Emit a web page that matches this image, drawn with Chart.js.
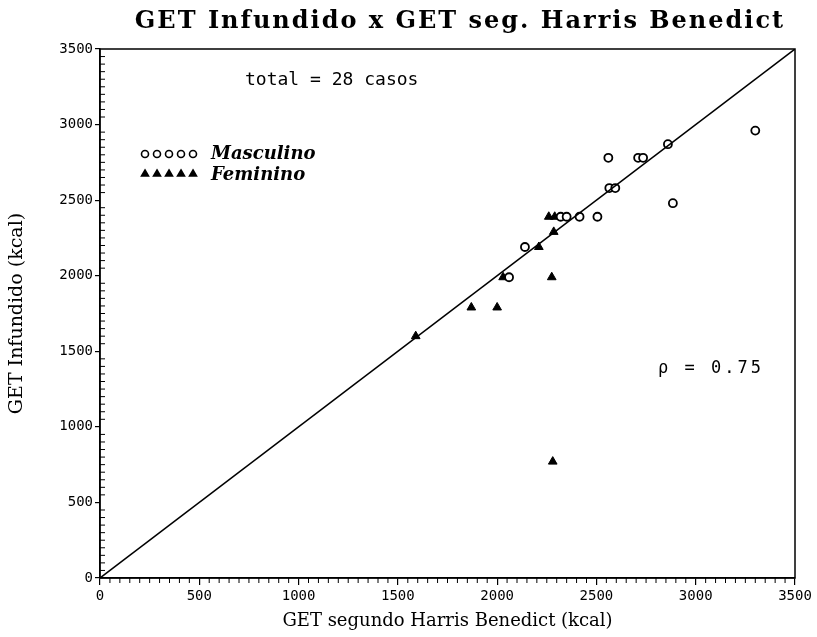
<!DOCTYPE html>
<html>
<head>
<meta charset="utf-8">
<script src="https://cdn.jsdelivr.net/npm/chart.js@4.4.1/dist/chart.umd.min.js"></script>
<style>
  html, body { margin: 0; padding: 0; background: #fff; }
  #wrap { width: 817px; height: 637px; }
</style>
</head>
<body>
<div id="wrap"><canvas id="c" width="817" height="637"></canvas></div>
<script>
// ---- data ----
const titleText = 'GET Infundido x GET seg. Harris Benedict';
const xTitle = 'GET segundo Harris Benedict (kcal)';
const yTitle = 'GET Infundido (kcal)';
const tickValues = [0, 500, 1000, 1500, 2000, 2500, 3000, 3500];

const mascX = [3300, 2860, 2560, 2710, 2735, 2565, 2595, 2885, 2505, 2415, 2320, 2350, 2140, 2060];
const mascY = [2960, 2870, 2780, 2780, 2780, 2580, 2580, 2480, 2390, 2390, 2390, 2390, 2190, 1990];

const femX = [2260, 2290, 2285, 2210, 2030, 2275, 1870, 2000, 1590, 2280];
const femY = [2390, 2390, 2290, 2190, 1990, 1990, 1790, 1790, 1600, 770];

const lineX = [0, 3500];
const lineY = [0, 3500];

const totalText = 'total = 28 casos';
const legendMasc = 'Masculino';
const legendFem = 'Feminino';
const rhoText = 'ρ = 0.75';

const toPts = (xs, ys) => xs.map((x, i) => ({ x: x, y: ys[i] }));

const annotations = {
  id: 'annotations',
  afterDraw(chart) {
    const ctx = chart.ctx;
    const ca = chart.chartArea;
    ctx.save();
    // frame
    ctx.strokeStyle = '#000';
    ctx.lineWidth = 1.5;
    ctx.strokeRect(ca.left, ca.top, ca.right - ca.left, ca.bottom - ca.top);
    // minor ticks
    const xs = chart.scales.x, ys = chart.scales.y;
    ctx.lineWidth = 1;
    ctx.beginPath();
    for (let v = 0; v <= 3500; v += 50) {
      if (v % 500 === 0) continue;
      const px = xs.getPixelForValue(v);
      ctx.moveTo(px, ca.bottom);
      ctx.lineTo(px, ca.bottom + 5);
      const py = ys.getPixelForValue(v);
      ctx.moveTo(ca.left, py);
      ctx.lineTo(ca.left + 5, py);
    }
    ctx.stroke();
    // title
    ctx.fillStyle = '#000';
    ctx.textBaseline = 'middle';
    ctx.textAlign = 'center';
    ctx.font = 'bold 24px "DejaVu Serif"';
    ctx.letterSpacing = '2px';
    ctx.fillText(titleText, 460, 22);
    ctx.letterSpacing = '0px';
    // text
    ctx.textAlign = 'left';
    ctx.font = '18px "DejaVu Sans Mono"';
    ctx.fillText(totalText, 245, 80);
    // legend
    const h = Chart.helpers;
    for (let i = 0; i < 5; i++) {
      const x = 145 + i * 12;
      ctx.strokeStyle = '#000';
      ctx.fillStyle = '#fff';
      ctx.lineWidth = 1.6;
      h.drawPoint(ctx, { pointStyle: 'circle', radius: 3.5, borderWidth: 1.6 }, x, 154);
      ctx.fillStyle = '#000';
      h.drawPoint(ctx, { pointStyle: 'triangle', radius: 4, borderWidth: 1 }, x, 174);
    }
    ctx.fillStyle = '#000';
    ctx.font = 'italic bold 18px "DejaVu Serif"';
    ctx.fillText(legendMasc, 211, 154);
    ctx.fillText(legendFem, 211, 175);
    ctx.font = '17px "DejaVu Sans Mono"';
    ctx.letterSpacing = '3px';
    ctx.fillText(rhoText, 658, 369);
    ctx.letterSpacing = '0px';
    ctx.restore();
  }
};

new Chart(document.getElementById('c'), {
  type: 'scatter',
  data: {
    datasets: [
      {
        type: 'line',
        label: 'diagonal',
        data: toPts(lineX, lineY),
        borderColor: '#000',
        borderWidth: 1.5,
        pointRadius: 0,
        fill: false,
        tension: 0
      },
      {
        label: legendMasc,
        data: toPts(mascX, mascY),
        pointStyle: 'circle',
        pointRadius: 4,
        pointBorderWidth: 1.8,
        borderColor: '#000',
        backgroundColor: '#fff'
      },
      {
        label: legendFem,
        data: toPts(femX, femY),
        pointStyle: 'triangle',
        pointRadius: 5,
        pointBorderWidth: 1,
        borderColor: '#000',
        backgroundColor: '#000'
      }
    ]
  },
  options: {
    responsive: false,
    animation: false,
    devicePixelRatio: 1,
    layout: { padding: { left: 0, right: 22, top: 49, bottom: 0 } },
    plugins: {
      legend: { display: false },
      tooltip: { enabled: false },
      title: { display: false }
    },
    scales: {
      x: {
        type: 'linear',
        min: 0, max: 3500,
        afterFit(s) { s.height = 59; },
        afterBuildTicks(s) { s.ticks = tickValues.map(v => ({ value: v })); },
        border: { display: true, color: '#000', width: 1.5 },
        grid: { drawOnChartArea: false, drawTicks: true, tickLength: 7, color: '#000', lineWidth: 1.2 },
        ticks: { color: '#000', padding: 3, maxRotation: 0, callback: v => String(v), font: { family: 'DejaVu Sans Mono', size: 14 } },
        title: { display: true, text: xTitle, color: '#000', font: { family: 'DejaVu Serif', size: 18 }, padding: { top: 0, bottom: 5 } }
      },
      y: {
        type: 'linear',
        min: 0, max: 3500,
        afterFit(s) { s.width = 100; },
        afterBuildTicks(s) { s.ticks = tickValues.map(v => ({ value: v })); },
        border: { display: true, color: '#000', width: 1.5 },
        grid: { drawOnChartArea: false, drawTicks: true, tickLength: 5, color: '#000', lineWidth: 1.2 },
        ticks: { color: '#000', padding: 2, callback: v => String(v), font: { family: 'DejaVu Sans Mono', size: 14 } },
        title: { display: true, text: yTitle, color: '#000', font: { family: 'DejaVu Serif', size: 19 }, padding: { top: 6, bottom: 0 } }
      }
    }
  },
  plugins: [annotations]
});
</script>
</body>
</html>
